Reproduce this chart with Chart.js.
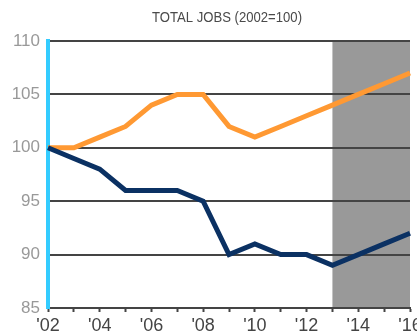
<!DOCTYPE html>
<html>
<head>
<meta charset="utf-8">
<script src="https://cdn.jsdelivr.net/npm/chart.js@4/dist/chart.umd.min.js"></script>
<style>
  html, body { margin: 0; padding: 0; background: #fff; }
  #wrap { width: 417px; height: 336px; position: relative; }
</style>
</head>
<body>
<div id="wrap"><canvas id="c" width="417" height="336"></canvas></div>
<script>
// Years on the horizontal axis and the index values (2002 = 100)
const years = [2002, 2003, 2004, 2005, 2006, 2007, 2008, 2009, 2010, 2011, 2012, 2013, 2014, 2015, 2016];
const seriesOrange = [100, 100, 101, 102, 104, 105, 105, 102, 101, 102, 103, 104, 105, 106, 107];
const seriesNavy   = [100, 99, 98, 96, 96, 96, 95, 90, 91, 90, 90, 89, 90, 91, 92];
// Years covered by the shaded projection band
const projectionStart = 2013;
const projectionEnd = 2016;
const yTicks = [85, 90, 95, 100, 105, 110];
const titleText = 'TOTAL JOBS (2002=100)';

const labels = years.map(y => "'" + String(y).slice(2));

// Shaded projection band, painted before grid lines so they sit on top
const bandPlugin = {
  id: 'band',
  beforeDraw(chart) {
    const { ctx, chartArea, scales } = chart;
    const x0 = scales.x.getPixelForValue(years.indexOf(projectionStart));
    const x1 = scales.x.getPixelForValue(years.indexOf(projectionEnd));
    ctx.save();
    ctx.fillStyle = '#999999';
    ctx.fillRect(x0, chartArea.top, x1 - x0, chartArea.bottom - chartArea.top);
    ctx.restore();
  }
};

// Condensed title: a regular sans face squeezed horizontally
const condensedTitle = {
  id: 'condensedTitle',
  afterDraw(chart) {
    const { ctx, chartArea } = chart;
    ctx.save();
    ctx.font = '14px "Liberation Sans", Arial, sans-serif';
    ctx.fillStyle = '#4a4a4a';
    ctx.textBaseline = 'alphabetic';
    ctx.textAlign = 'center';
    const w = ctx.measureText(titleText).width;
    const sx = 150 / w;
    const cx = (chartArea.left + chartArea.right) / 2 - 2;
    ctx.translate(cx, 22);
    ctx.scale(sx, 1);
    ctx.fillText(titleText, 0, 0);
    ctx.restore();
  }
};

new Chart(document.getElementById('c'), {
  type: 'line',
  data: {
    labels: labels,
    datasets: [
      {
        data: seriesNavy,
        borderColor: '#0b3163',
        borderWidth: 5,
        pointRadius: 0,
        tension: 0,
        fill: false
      },
      {
        data: seriesOrange,
        borderColor: '#ff9933',
        borderWidth: 5,
        pointRadius: 0,
        tension: 0,
        fill: false
      }
    ]
  },
  options: {
    responsive: false,
    animation: false,
    layout: { padding: { left: 0, right: 7, top: 41, bottom: 0 } },
    plugins: {
      legend: { display: false },
      tooltip: { enabled: false },
      title: { display: false }
    },
    scales: {
      x: {
        type: 'category',
        offset: false,
        grid: {
          display: true,
          drawOnChartArea: false,
          drawTicks: true,
          tickLength: 4,
          tickWidth: 2,
          tickColor: '#444444'
        },
        border: { display: true, color: '#444444', width: 2 },
        ticks: {
          autoSkip: false,
          maxRotation: 0,
          minRotation: 0,
          padding: 3,
          color: '#444444',
          font: { family: '"Liberation Sans", Arial, sans-serif', size: 18 },
          callback: function (val, i) { return i % 2 === 0 ? labels[i] : ''; }
        },
        afterFit(scale) { scale.paddingLeft = 0; scale.paddingRight = 0; scale.height = 28; }
      },
      y: {
        min: 85,
        max: 110,
        afterBuildTicks(scale) { scale.ticks = yTicks.map(v => ({ value: v })); },
        grid: {
          color: '#444444',
          lineWidth: 2,
          drawTicks: false
        },
        border: { display: true, color: '#33ccff', width: 4 },
        ticks: {
          padding: 8,
          color: '#999999',
          font: { family: '"Liberation Sans", Arial, sans-serif', size: 17 }
        },
        afterFit(scale) { scale.width = 48; scale.paddingTop = 0; scale.paddingBottom = 0; }
      }
    }
  },
  plugins: [bandPlugin, condensedTitle]
});
</script>
</body>
</html>
